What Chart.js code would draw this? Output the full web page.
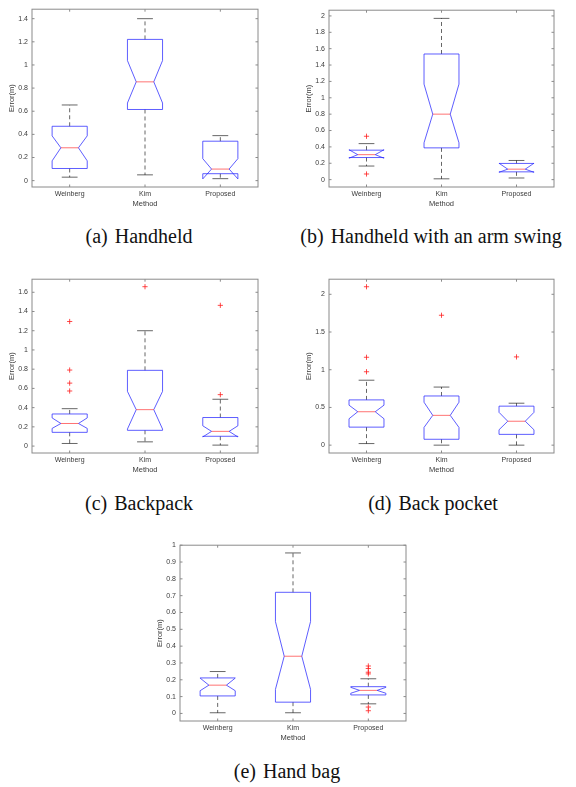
<!DOCTYPE html>
<html>
<head>
<meta charset="utf-8">
<script src="https://cdn.jsdelivr.net/npm/chart.js@4.4.0/dist/chart.umd.min.js"></script>
<style>
  body { margin: 0; background: #fff; }
  #figure { position: relative; width: 576px; height: 787px; overflow: hidden; }
  #figure canvas { position: absolute; }
  .cap {
    position: absolute;
    font-family: "Liberation Serif", "Times New Roman", serif;
    font-size: 20px;
    color: #111;
    white-space: nowrap;
    transform: translate(-50%, -50%);
  }
  .cap span { margin-right: 7px; }
</style>
</head>
<body>
<div id="figure"></div>
<script>
const methods = ['Weinberg', 'Kim', 'Proposed'];

// (a) Handheld
const handheldWhiskLo = [0.03, 0.05, 0.017];
const handheldQ1 = [0.105, 0.615, 0.06];
const handheldNotchLo = [0.171, 0.671, 0.015];
const handheldMedian = [0.284, 0.854, 0.10];
const handheldNotchHi = [0.387, 1.038, 0.19];
const handheldQ3 = [0.47, 1.221, 0.341];
const handheldWhiskHi = [0.654, 1.40, 0.389];
const handheldOutliers = [[], [], []];
const handheldTicks = [0, 0.2, 0.4, 0.6, 0.8, 1, 1.2, 1.4];
const handheldRange = [-0.055, 1.482];

// (b) Handheld with an arm swing
const swingWhiskLo = [0.166, 0.01, 0.02];
const swingQ1 = [0.27, 0.388, 0.095];
const swingNotchLo = [0.262, 0.45, 0.09];
const swingMedian = [0.305, 0.80, 0.128];
const swingNotchHi = [0.365, 1.167, 0.2];
const swingQ3 = [0.36, 1.535, 0.198];
const swingWhiskHi = [0.44, 1.97, 0.234];
const swingOutliers = [[0.53, 0.069], [], []];
const swingTicks = [0, 0.2, 0.4, 0.6, 0.8, 1, 1.2, 1.4, 1.6, 1.8, 2];
const swingRange = [-0.09, 2.07];

// (c) Backpack
const backpackWhiskLo = [0.027, 0.044, 0.01];
const backpackQ1 = [0.143, 0.164, 0.102];
const backpackNotchLo = [0.184, 0.177, 0.095];
const backpackMedian = [0.235, 0.379, 0.153];
const backpackNotchHi = [0.293, 0.569, 0.211];
const backpackQ3 = [0.334, 0.788, 0.297];
const backpackWhiskHi = [0.389, 1.20, 0.487];
const backpackOutliers = [[1.296, 0.791, 0.655, 0.573], [1.658], [1.464, 0.535]];
const backpackTicks = [0, 0.2, 0.4, 0.6, 0.8, 1, 1.2, 1.4, 1.6];
const backpackRange = [-0.072, 1.736];

// (d) Back pocket
const pocketWhiskLo = [0.021, 0.0, 0.0];
const pocketQ1 = [0.239, 0.078, 0.143];
const pocketNotchLo = [0.35, 0.235, 0.204];
const pocketMedian = [0.443, 0.395, 0.317];
const pocketNotchHi = [0.53, 0.569, 0.435];
const pocketQ3 = [0.60, 0.652, 0.517];
const pocketWhiskHi = [0.861, 0.77, 0.556];
const pocketOutliers = [[2.10, 1.165, 0.973], [1.722], [1.17]];
const pocketTicks = [0, 0.5, 1, 1.5, 2];
const pocketRange = [-0.104, 2.2];

// (e) Hand bag
const bagWhiskLo = [0.004, 0.004, 0.057];
const bagQ1 = [0.104, 0.067, 0.11];
const bagNotchLo = [0.135, 0.143, 0.12];
const bagMedian = [0.168, 0.34, 0.137];
const bagNotchHi = [0.21, 0.546, 0.155];
const bagQ3 = [0.211, 0.72, 0.159];
const bagWhiskHi = [0.249, 0.954, 0.206];
const bagOutliers = [[], [], [0.282, 0.267, 0.245, 0.235, 0.038, 0.016]];
const bagTicks = [0, 0.1, 0.2, 0.3, 0.4, 0.5, 0.6, 0.7, 0.8, 0.9, 1];
const bagRange = [-0.045, 1.0];

// layout: plot area [left, top, right, bottom] and caption centre [x, y]
const panels = [
  { label: '(a)', caption: 'Handheld', area: [32, 7, 258, 187], cap: [139, 236],
    stats: [handheldWhiskLo, handheldQ1, handheldNotchLo, handheldMedian, handheldNotchHi, handheldQ3, handheldWhiskHi],
    outliers: handheldOutliers, ticks: handheldTicks, range: handheldRange },
  { label: '(b)', caption: 'Handheld with an arm swing', area: [329, 8, 554, 187], cap: [431, 236],
    stats: [swingWhiskLo, swingQ1, swingNotchLo, swingMedian, swingNotchHi, swingQ3, swingWhiskHi],
    outliers: swingOutliers, ticks: swingTicks, range: swingRange },
  { label: '(c)', caption: 'Backpack', area: [32, 277, 258, 453], cap: [139, 503],
    stats: [backpackWhiskLo, backpackQ1, backpackNotchLo, backpackMedian, backpackNotchHi, backpackQ3, backpackWhiskHi],
    outliers: backpackOutliers, ticks: backpackTicks, range: backpackRange },
  { label: '(d)', caption: 'Back pocket', area: [329, 277, 554, 453], cap: [433, 503],
    stats: [pocketWhiskLo, pocketQ1, pocketNotchLo, pocketMedian, pocketNotchHi, pocketQ3, pocketWhiskHi],
    outliers: pocketOutliers, ticks: pocketTicks, range: pocketRange },
  { label: '(e)', caption: 'Hand bag', area: [180, 543, 406, 721], cap: [287, 771],
    stats: [bagWhiskLo, bagQ1, bagNotchLo, bagMedian, bagNotchHi, bagQ3, bagWhiskHi],
    outliers: bagOutliers, ticks: bagTicks, range: bagRange }
];

const FONT = '"Liberation Sans", Arial, sans-serif';
const BOX_HALF = 0.233;   // half box width, x units
const CAP_HALF = 0.105;   // half whisker cap width
const Y_AXIS_W = 32, X_AXIS_H = 26, PAD_TOP = 6, PAD_RIGHT = 6;

const figure = document.getElementById('figure');

function line(ctx, x1, y1, x2, y2) {
    ctx.beginPath();
    ctx.moveTo(x1, y1);
    ctx.lineTo(x2, y2);
    ctx.stroke();
}

// draws notched boxes, whiskers and the MATLAB style frame with inner ticks
function makeBoxPlugin(stats) {
    const [wLo, q1, nLo, med, nHi, q3, wHi] = stats;
    return {
        id: 'notchBox',
        beforeDatasetsDraw(chart) {
            const ctx = chart.ctx;
            const xs = chart.scales.x, ys = chart.scales.y;
            const py = v => ys.getPixelForValue(v);
            const hw = xs.getPixelForValue(1 + BOX_HALF) - xs.getPixelForValue(1);
            const nw = hw / 2;
            const cw = xs.getPixelForValue(1 + CAP_HALF) - xs.getPixelForValue(1);
            ctx.save();
            ctx.lineWidth = 1;
            methods.forEach((m, i) => {
                const x = xs.getPixelForValue(i + 1);
                // whiskers
                ctx.strokeStyle = 'rgba(0,0,0,0.6)';
                ctx.setLineDash([4, 3]);
                line(ctx, x, py(q3[i]), x, py(wHi[i]));
                line(ctx, x, py(q1[i]), x, py(wLo[i]));
                ctx.setLineDash([]);
                line(ctx, x - cw, py(wHi[i]), x + cw, py(wHi[i]));
                line(ctx, x - cw, py(wLo[i]), x + cw, py(wLo[i]));
                // notched box
                ctx.strokeStyle = 'rgba(40,40,255,0.75)';
                ctx.beginPath();
                ctx.moveTo(x - hw, py(q3[i]));
                ctx.lineTo(x - hw, py(nHi[i]));
                ctx.lineTo(x - nw, py(med[i]));
                ctx.lineTo(x - hw, py(nLo[i]));
                ctx.lineTo(x - hw, py(q1[i]));
                ctx.lineTo(x + hw, py(q1[i]));
                ctx.lineTo(x + hw, py(nLo[i]));
                ctx.lineTo(x + nw, py(med[i]));
                ctx.lineTo(x + hw, py(nHi[i]));
                ctx.lineTo(x + hw, py(q3[i]));
                ctx.closePath();
                ctx.stroke();
                // median
                ctx.strokeStyle = 'rgba(255,40,40,0.65)';
                line(ctx, x - nw, py(med[i]), x + nw, py(med[i]));
            });
            ctx.restore();
        },
        afterDraw(chart) {
            const ctx = chart.ctx;
            const a = chart.chartArea;
            const xs = chart.scales.x, ys = chart.scales.y;
            ctx.save();
            ctx.strokeStyle = '#8a8a8a';
            ctx.lineWidth = 1;
            ctx.strokeRect(a.left, a.top, a.right - a.left, a.bottom - a.top);
            const tl = 2.5;
            ys.ticks.forEach(t => {
                const y = ys.getPixelForValue(t.value);
                line(ctx, a.left, y, a.left + tl, y);
                line(ctx, a.right, y, a.right - tl, y);
            });
            xs.ticks.forEach(t => {
                const x = xs.getPixelForValue(t.value);
                line(ctx, x, a.bottom, x, a.bottom - tl);
                line(ctx, x, a.top, x, a.top + tl);
            });
            ctx.restore();
        }
    };
}

panels.forEach(p => {
    const [l, t, r, b] = p.area;
    const canvas = document.createElement('canvas');
    canvas.width = (r - l) + Y_AXIS_W + PAD_RIGHT;
    canvas.height = (b - t) + PAD_TOP + X_AXIS_H;
    canvas.style.left = (l - Y_AXIS_W) + 'px';
    canvas.style.top = (t - PAD_TOP) + 'px';
    figure.appendChild(canvas);

    const cap = document.createElement('div');
    cap.className = 'cap';
    cap.innerHTML = `<span>${p.label}</span>${p.caption}`;
    cap.style.left = p.cap[0] + 'px';
    cap.style.top = p.cap[1] + 'px';
    figure.appendChild(cap);

    // outliers as scatter points
    const points = [];
    p.outliers.forEach((vals, i) => vals.forEach(v => points.push({ x: i + 1, y: v })));

    new Chart(canvas, {
        type: 'scatter',
        data: {
            datasets: [{
                data: points,
                pointStyle: 'cross',
                radius: 2.6,
                borderWidth: 1,
                borderColor: 'rgba(255,30,30,0.8)',
                backgroundColor: 'rgba(255,30,30,0.8)'
            }]
        },
        options: {
            responsive: false,
            animation: false,
            layout: { padding: { top: PAD_TOP, right: PAD_RIGHT, left: 0, bottom: 0 } },
            plugins: { legend: { display: false }, tooltip: { enabled: false } },
            scales: {
                x: {
                    type: 'linear',
                    min: 0.5,
                    max: 3.5,
                    grid: { display: false, drawTicks: false },
                    border: { display: false },
                    afterBuildTicks: s => { s.ticks = methods.map((m, i) => ({ value: i + 1 })); },
                    afterFit: s => { s.height = X_AXIS_H; },
                    ticks: {
                        padding: 3,
                        maxRotation: 0,
                        autoSkip: false,
                        color: '#3a3a3a',
                        font: { family: FONT, size: 7 },
                        callback: v => methods[Math.round(v) - 1]
                    },
                    title: {
                        display: true,
                        text: 'Method',
                        color: '#3a3a3a',
                        font: { family: FONT, size: 7.5 },
                        padding: { top: 0, bottom: 4.5 }
                    }
                },
                y: {
                    min: p.range[0],
                    max: p.range[1],
                    grid: { display: false, drawTicks: false },
                    border: { display: false },
                    afterBuildTicks: s => { s.ticks = p.ticks.map(v => ({ value: v })); },
                    afterFit: s => { s.width = Y_AXIS_W; },
                    ticks: {
                        padding: 4,
                        color: '#3a3a3a',
                        font: { family: FONT, size: 7 },
                        callback: v => String(+v.toFixed(2))
                    },
                    title: {
                        display: true,
                        text: 'Error(m)',
                        color: '#3a3a3a',
                        font: { family: FONT, size: 7.5 },
                        padding: { top: 7.5, bottom: 0 }
                    }
                }
            }
        },
        plugins: [makeBoxPlugin(p.stats)]
    });
});
</script>
</body>
</html>
